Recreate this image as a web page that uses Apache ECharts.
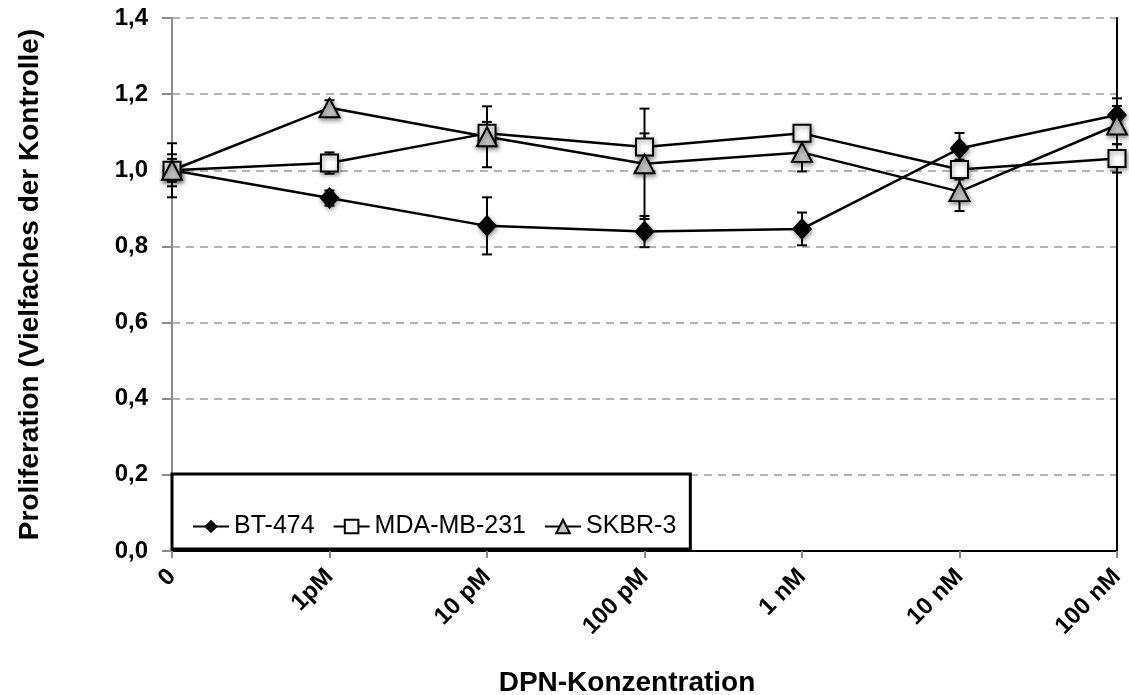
<!DOCTYPE html>
<html>
<head>
<meta charset="utf-8">
<script src="https://cdn.jsdelivr.net/npm/echarts@6/dist/echarts.min.js"></script>
<style>
  html, body { margin: 0; padding: 0; background: #fff; }
  #chart { width: 1129px; height: 695px; }
</style>
</head>
<body>
<div id="chart"></div>
<script>
// DPN concentrations (x categories)
const categories = ['0', '1pM', '10 pM', '100 pM', '1 nM', '10 nM', '100 nM'];

// Proliferation relative to control, mean and error per cell line
const bt474     = [1.000, 0.927, 0.854, 0.839, 0.846, 1.057, 1.145];
const bt474Err  = [0.071, 0.020, 0.075, 0.041, 0.043, 0.041, 0.044];
const mda231    = [1.000, 1.019, 1.097, 1.061, 1.097, 1.002, 1.031];
const mda231Err = [0.042, 0.028, 0.030, 0.036, 0.020, 0.026, 0.037];
const skbr3     = [1.000, 1.164, 1.088, 1.017, 1.047, 0.944, 1.119];
const skbr3Err  = [0.030, 0.020, 0.080, 0.145, 0.050, 0.051, 0.050];

const seriesNames = ['BT-474', 'MDA-MB-231', 'SKBR-3'];
const yTicks = { min: 0, max: 1.4, interval: 0.2 };

const FONT = '"Liberation Sans", Arial, sans-serif';

// error bars: vertical whisker with caps, positioned through the axes
function errorSeries(values, errs) {
  const data = values.map((v, i) => [i, v - errs[i], v + errs[i]]);
  return {
    type: 'custom',
    z: 1,
    silent: true,
    data: data,
    encode: { x: 0, y: [1, 2] },
    renderItem: function (params, api) {
      const lo = api.coord([api.value(0), api.value(1)]);
      const hi = api.coord([api.value(0), api.value(2)]);
      const half = 5;
      const style = { stroke: '#000', lineWidth: 2 };
      return {
        type: 'group',
        children: [
          { type: 'line', shape: { x1: lo[0], y1: lo[1], x2: hi[0], y2: hi[1] }, style },
          { type: 'line', shape: { x1: lo[0] - half, y1: lo[1], x2: lo[0] + half, y2: lo[1] }, style },
          { type: 'line', shape: { x1: hi[0] - half, y1: hi[1], x2: hi[0] + half, y2: hi[1] }, style }
        ]
      };
    }
  };
}

const markerShadow = {
  shadowBlur: 5,
  shadowColor: 'rgba(0,0,0,0.45)',
  shadowOffsetX: 1,
  shadowOffsetY: 2
};

function lineSeries(name, values, symbol, size, fill) {
  return {
    name: name,
    type: 'line',
    z: 3,
    data: values,
    symbol: symbol,
    symbolSize: size,
    showAllSymbol: true,
    lineStyle: { color: '#000', width: 2.5 },
    itemStyle: Object.assign({ color: fill, borderColor: '#000', borderWidth: fill === '#000' ? 0 : 2 }, markerShadow),
    emphasis: { disabled: true },
    animation: false
  };
}

const chart = echarts.init(document.getElementById('chart'), null, { renderer: 'canvas' });

chart.setOption({
  animation: false,
  backgroundColor: '#fff',
  grid: { left: 172, right: 12, top: 18, bottom: 144, containLabel: false },
  legend: {
    data: seriesNames,
    left: 172,
    top: 474,
    orient: 'horizontal',
    padding: [40, 14, 10, 20],
    itemGap: 18,
    itemWidth: 36,
    itemHeight: 17,
    borderColor: '#000',
    borderWidth: 3,
    backgroundColor: '#fff',
    textStyle: { fontFamily: FONT, fontSize: 25, color: '#000' },
    itemStyle: { shadowBlur: 0, shadowOffsetX: 0, shadowOffsetY: 0 }
  },
  xAxis: [{
    type: 'category',
    data: categories,
    boundaryGap: false,
    axisLine: { lineStyle: { color: '#8c8c8c', width: 2 } },
    axisTick: { show: true, alignWithLabel: true, length: 7, lineStyle: { color: '#8c8c8c', width: 2 } },
    axisLabel: { rotate: 45, margin: 22, fontFamily: FONT, fontSize: 24, fontWeight: 'bold', color: '#000' },
    splitLine: { show: false }
  }, {
    type: 'category',
    data: categories,
    position: 'top',
    boundaryGap: false,
    axisLine: { show: true, lineStyle: { color: '#000', width: 2 } },
    axisTick: { show: false },
    axisLabel: { show: false }
  }],
  yAxis: [{
    type: 'value',
    min: yTicks.min,
    max: yTicks.max,
    interval: yTicks.interval,
    name: 'Proliferation (Vielfaches der Kontrolle)',
    nameLocation: 'middle',
    nameGap: 128,
    nameTextStyle: { fontFamily: FONT, fontSize: 28, fontWeight: 'bold', color: '#000' },
    axisLine: { show: true, lineStyle: { color: '#8c8c8c', width: 2 } },
    axisTick: { show: true, length: 10, lineStyle: { color: '#8c8c8c', width: 2 } },
    axisLabel: {
      margin: 24,
      fontFamily: FONT, fontSize: 24, fontWeight: 'bold', color: '#000',
      formatter: v => v.toFixed(1).replace('.', ',')
    },
    splitLine: { show: true, lineStyle: { color: '#9a9a9a', width: 1.5, type: [8, 6] } }
  }, {
    type: 'value',
    min: yTicks.min,
    max: yTicks.max,
    interval: yTicks.interval,
    position: 'right',
    axisLine: { show: true, lineStyle: { color: '#000', width: 2 } },
    axisTick: { show: false },
    axisLabel: { show: false },
    splitLine: { show: false }
  }],
  graphic: [{
    type: 'text',
    x: 627,
    y: 683,
    style: {
      text: 'DPN-Konzentration',
      font: 'bold 28px ' + FONT,
      fill: '#000',
      align: 'center',
      verticalAlign: 'middle'
    }
  }],
  series: [
    errorSeries(bt474, bt474Err),
    errorSeries(mda231, mda231Err),
    errorSeries(skbr3, skbr3Err),
    lineSeries('BT-474', bt474, 'diamond', [20, 22], '#000'),
    lineSeries('MDA-MB-231', mda231, 'rect', [17, 17], '#fff'),
    lineSeries('SKBR-3', skbr3, 'triangle', [20, 19], '#c4c4c4')
  ]
});
</script>
</body>
</html>
